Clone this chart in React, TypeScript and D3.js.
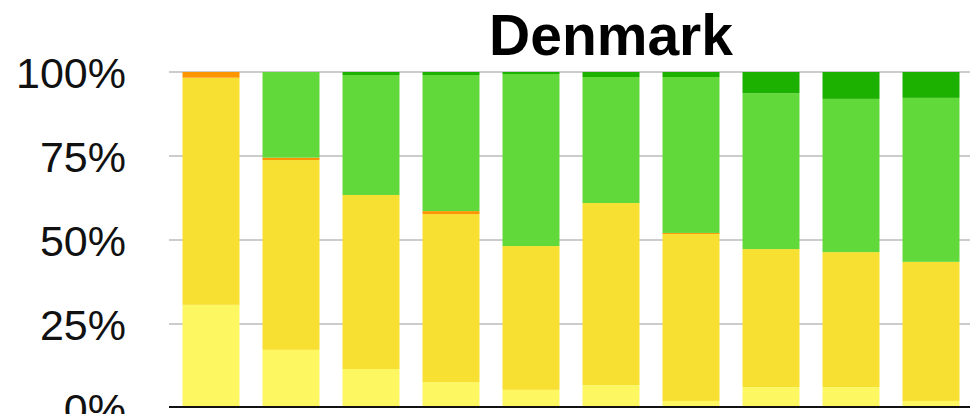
import React from "react";
import * as d3 from "d3";

const title = "Denmark";
const categories = ["1", "2", "3", "4", "5", "6", "7", "8", "9", "10"];
const seriesNames = ["lightYellow", "yellow", "orange", "green", "darkGreen"];
const lightYellow = [30.7, 17.3, 11.6, 7.7, 5.4, 6.8, 2.1, 6.2, 6.2, 2.1];
const yellow = [67.6, 56.5, 51.8, 50.0, 42.8, 54.2, 49.7, 41.1, 40.2, 41.4];
const orange = [1.7, 0.7, 0, 0.9, 0, 0, 0.3, 0, 0, 0];
const green = [0, 25.5, 35.7, 40.5, 51.2, 37.5, 46.4, 46.4, 45.6, 48.8];
const darkGreen = [0, 0, 0.9, 0.9, 0.6, 1.5, 1.5, 6.3, 8.0, 7.7];
const yTicks = [0, 25, 50, 75, 100];

const colors: Record<string, string> = {
  lightYellow: "#fdf862",
  yellow: "#f8e033",
  orange: "#fd9500",
  green: "#62d93a",
  darkGreen: "#1cb100",
};

export default function App() {
  const width = 970;
  const height = 414;
  const values: Record<string, number[]> = { lightYellow, yellow, orange, green, darkGreen };
  const rows = categories.map((c, i) => {
    const r: any = { cat: c };
    seriesNames.forEach((s) => (r[s] = values[s][i]));
    return r;
  });
  const stack = d3.stack<any>().keys(seriesNames)(rows);

  const x = d3
    .scaleBand<string>()
    .domain(categories)
    .range([171, 971])
    .paddingInner(0.2875)
    .paddingOuter(0.14375);
  const y = d3.scaleLinear().domain([0, 100]).range([408, 72]);

  return (
    <svg
      width={width}
      height={height}
      style={{ position: "absolute", left: 0, top: 0, background: "#fff" }}
    >
      {yTicks.map((t) =>
        t === 0 ? null : (
          <line
            key={"g" + t}
            x1={169}
            x2={970}
            y1={y(t)}
            y2={y(t)}
            stroke="#bbbbbb"
            strokeWidth={1.6}
          />
        )
      )}
      {stack.map((layer) => (
        <g key={layer.key} fill={colors[layer.key]}>
          {layer.map((d, i) => {
            const h = y(d[0]) - y(d[1]);
            if (h <= 0) return null;
            return (
              <rect
                key={i}
                x={x(categories[i])}
                y={y(d[1])}
                width={x.bandwidth()}
                height={h}
              />
            );
          })}
        </g>
      ))}
      <line x1={169} x2={970} y1={407} y2={407} stroke="#111" strokeWidth={2} />
      {yTicks.map((t) => (
        <text
          key={"t" + t}
          x={126}
          y={y(t) + 16}
          textAnchor="end"
          fontFamily="'Liberation Sans', Arial, sans-serif"
          fontSize={43}
          fill="#111"
        >
          {t + "%"}
        </text>
      ))}
      <text
        x={611}
        y={55}
        textAnchor="middle"
        fontFamily="'Liberation Sans', Arial, sans-serif"
        fontWeight="bold"
        fontSize={57}
        fill="#000"
      >
        {title}
      </text>
    </svg>
  );
}
